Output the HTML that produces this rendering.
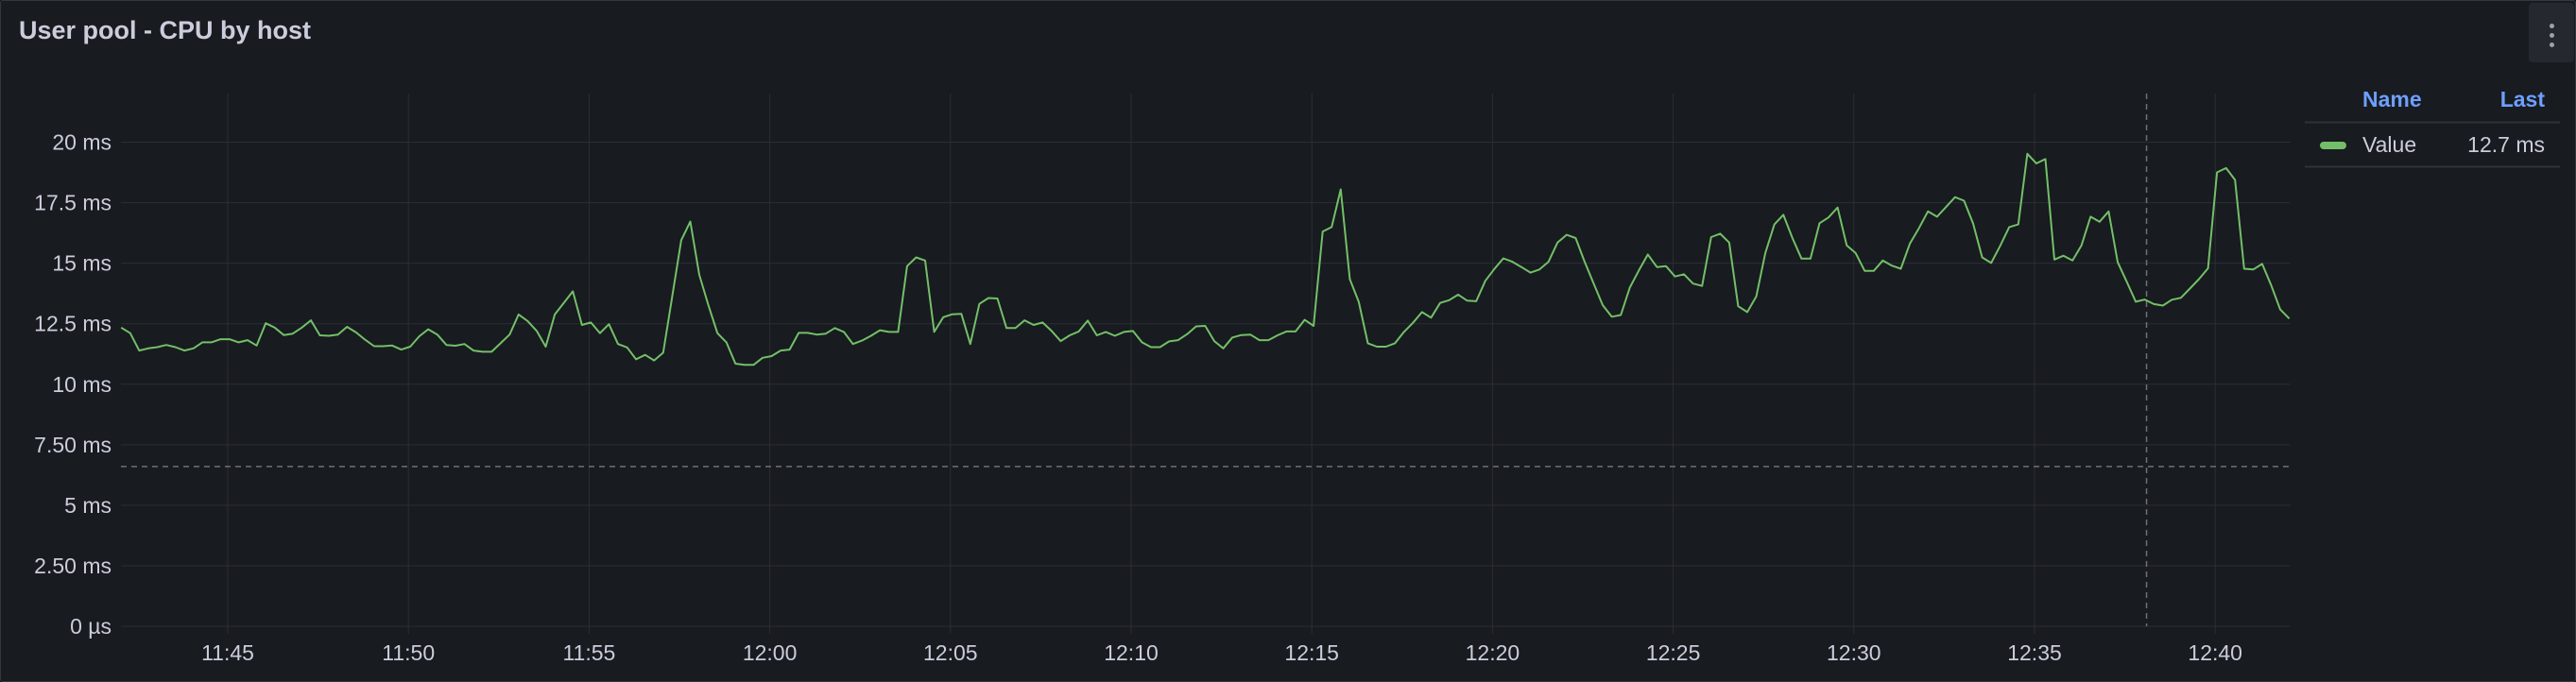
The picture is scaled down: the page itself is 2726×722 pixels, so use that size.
<!DOCTYPE html>
<html><head><meta charset="utf-8">
<style>
html,body{margin:0;padding:0;background:#111217;}
#panel{position:absolute;left:0;top:0;width:2724px;height:720px;background:#181b1f;border:1px solid #34373d;border-radius:3px;overflow:hidden;font-family:"Liberation Sans",sans-serif;}
#title{position:absolute;left:19px;top:16px;font-size:27px;font-weight:bold;color:#ccccdc;white-space:nowrap;}
#menu{position:absolute;left:2675px;top:2px;width:48px;height:63px;background:#25282e;border-radius:4px;}
.dot{position:absolute;left:22px;width:5px;height:5px;border-radius:50%;background:#9fa1aa;}
svg{position:absolute;left:0;top:0;}
</style></head><body>
<div id="panel">
<div id="title">User pool - CPU by host</div>
<div id="menu"><div class="dot" style="top:22px"></div><div class="dot" style="top:32px"></div><div class="dot" style="top:42px"></div></div>
<svg id="chart" width="2726" height="722"></svg>
</div>
<script>
const yTicks=[0,2.5,5,7.5,10,12.5,15,17.5,20];
const yTickLabels=["0 µs","2.50 ms","5 ms","7.50 ms","10 ms","12.5 ms","15 ms","17.5 ms","20 ms"];
const xTicks=[5,10,15,20,25,30,35,40,45,50,55,60];
const xTickLabels=["11:45","11:50","11:55","12:00","12:05","12:10","12:15","12:20","12:25","12:30","12:35","12:40"];
const threshold=6.6;
const cursorTime=58.1;
const startTime=2.05;
const stepMin=0.25;
const values=[12.34,12.11,11.39,11.48,11.53,11.62,11.53,11.39,11.48,11.73,11.73,11.86,11.86,11.73,11.82,11.6,12.52,12.34,12.03,12.09,12.34,12.64,12.02,12.0,12.05,12.37,12.14,11.84,11.57,11.57,11.6,11.43,11.55,11.98,12.27,12.05,11.62,11.59,11.66,11.39,11.34,11.34,11.69,12.05,12.88,12.61,12.2,11.55,12.88,13.36,13.84,12.45,12.55,12.11,12.48,11.66,11.52,11.03,11.21,10.98,11.3,13.63,15.95,16.72,14.52,13.27,12.11,11.73,10.85,10.8,10.8,11.09,11.16,11.39,11.43,12.12,12.12,12.05,12.09,12.32,12.16,11.66,
11.8,12.0,12.23,12.16,12.16,14.88,15.24,15.11,12.16,12.77,12.89,12.91,11.66,13.32,13.56,13.54,12.32,12.32,12.64,12.45,12.55,12.2,11.78,12.02,12.18,12.63,12.02,12.16,12.0,12.16,12.2,11.73,11.53,11.53,11.77,11.82,12.07,12.39,12.41,11.78,11.48,11.93,12.03,12.05,11.82,11.82,12.02,12.18,12.18,12.66,12.41,16.31,16.49,18.05,14.34,13.4,11.69,11.55,11.55,11.69,12.16,12.54,12.98,12.75,13.36,13.47,13.7,13.45,13.43,14.27,14.76,15.2,15.06,14.84,14.61,14.74,15.06,15.85,16.17,16.04,15.06,14.16,13.27,12.79,12.86,13.99,14.7,15.36,14.84,14.88,14.45,14.54,14.16,14.06,
16.08,16.22,15.85,13.22,12.98,13.63,15.42,16.6,17.0,16.04,15.19,15.19,16.65,16.89,17.3,15.74,15.42,14.68,14.68,15.11,14.9,14.77,15.81,16.44,17.14,16.92,17.32,17.73,17.58,16.64,15.24,15.01,15.72,16.49,16.6,19.52,19.12,19.3,15.15,15.31,15.11,15.74,16.92,16.71,17.14,15.04,14.24,13.41,13.5,13.31,13.25,13.49,13.57,13.95,14.34,14.79,18.75,18.93,18.44,14.77,14.74,14.97,14.08,13.09,12.71];
const legendName="Value";

const NS="http://www.w3.org/2000/svg";
const svg=document.getElementById('chart');
const L=127,R=2422.6,TOP=98,Y0=662,Y20=149.5;
const yS=v=>Y0-(v/20)*(Y0-Y20);
const xS=t=>240+(t-5)*38.24;
function mk(tag,attrs,parent){const e=document.createElementNS(NS,tag);for(const k in attrs)e.setAttribute(k,attrs[k]);(parent||svg).appendChild(e);return e;}
yTicks.forEach((v,i)=>{
 const g=mk('line',{x1:L,x2:R,y1:yS(v),y2:yS(v),stroke:'#2b2e34','stroke-width':1});
 
 
 const t=mk('text',{x:117,y:yS(v)+8,'text-anchor':'end','font-size':23,fill:'#ccccdc','font-family':'Liberation Sans, sans-serif'});
 t.textContent=yTickLabels[i];
 
 
});
xTicks.forEach((v,i)=>{
 const g=mk('line',{x1:xS(v),x2:xS(v),y1:TOP,y2:670,stroke:'#2b2e34','stroke-width':1});
 
 
 const t=mk('text',{x:xS(v),y:698,'text-anchor':'middle','font-size':23,fill:'#ccccdc','font-family':'Liberation Sans, sans-serif'});
 t.textContent=xTickLabels[i];
 
 
});
const th=mk('line',{x1:L,x2:R,y1:yS(threshold),y2:yS(threshold),stroke:'#6e7075','stroke-width':1.5,'stroke-dasharray':'6 5'});


const cur=mk('line',{x1:xS(cursorTime),x2:xS(cursorTime),y1:TOP,y2:662,stroke:'#6e7075','stroke-width':1.5,'stroke-dasharray':'6 5'});


const pts=values.map((v,i)=>xS(startTime+i*stepMin).toFixed(1)+','+yS(v).toFixed(1)).join(' ');
const line=mk('polyline',{points:pts,fill:'none',stroke:'#73bf69','stroke-width':2,'stroke-linejoin':'round'});


const lh1=mk('text',{x:2499,y:112,'font-size':23,'font-weight':'bold',fill:'#6e9fff','font-family':'Liberation Sans, sans-serif'});lh1.textContent='Name';


const lh2=mk('text',{x:2692,y:112,'text-anchor':'end','font-size':23,'font-weight':'bold',fill:'#6e9fff','font-family':'Liberation Sans, sans-serif'});lh2.textContent='Last';


mk('line',{x1:2438,x2:2708,y1:128.5,y2:128.5,stroke:'#2f3238','stroke-width':2});
mk('line',{x1:2438,x2:2708,y1:175.5,y2:175.5,stroke:'#2f3238','stroke-width':2});
const sw=mk('rect',{x:2454,y:149,width:28,height:8,rx:4,fill:'#73bf69'});


const ln=mk('text',{x:2499,y:160,'font-size':23,fill:'#ccccdc','font-family':'Liberation Sans, sans-serif'});ln.textContent=legendName;


const lv=mk('text',{x:2692,y:160,'text-anchor':'end','font-size':23,fill:'#ccccdc','font-family':'Liberation Sans, sans-serif'});lv.textContent=values[values.length-1].toFixed(1)+' ms';


</script>
</body></html>
